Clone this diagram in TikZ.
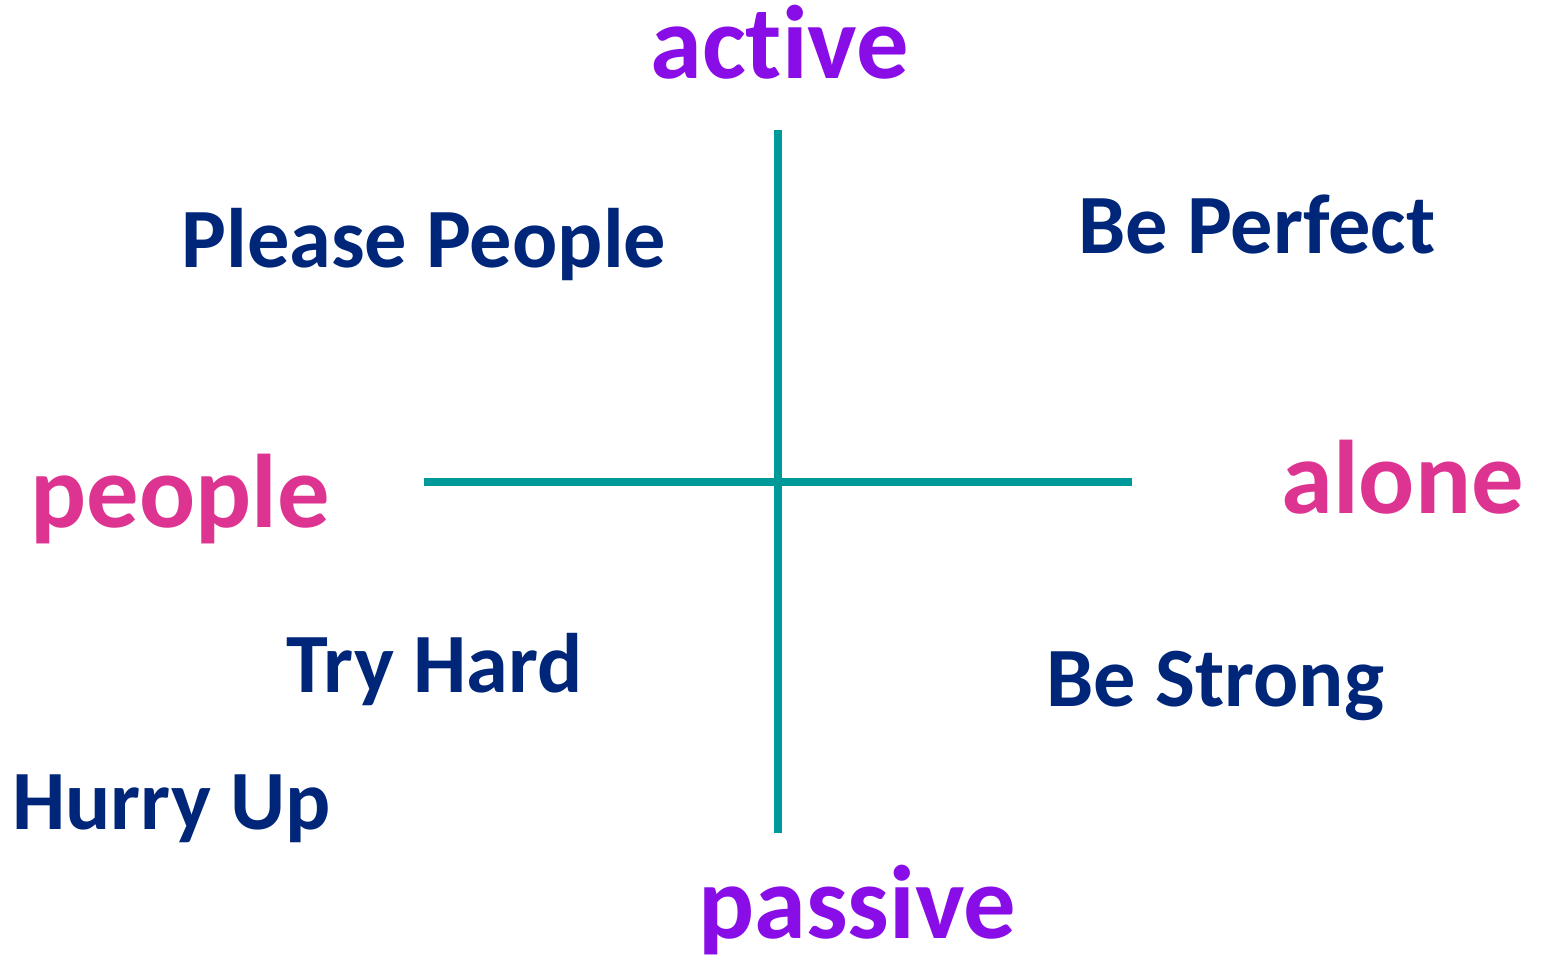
\documentclass[tikz,border=0pt]{standalone}
\usepackage{fontspec}
\setmainfont{Carlito}[Ligatures = CommonOff]
\definecolor{axisteal}{RGB}{0,153,153}
\definecolor{polepurple}{RGB}{137,13,230}
\definecolor{polepink}{RGB}{222,52,145}
\definecolor{drivernavy}{RGB}{0,38,122}

\begin{document}
\begin{tikzpicture}[x = 0.5pt, y = -0.5pt, font=\bfseries]
	\tikzstyle{axisStyle} = [draw = axisteal, line width = 4pt]
	\tikzstyle{poleStyle} = [inner sep = 0pt, anchor = base west, font = \fontsize{52.3}{60}\bfseries\selectfont]
	\tikzstyle{driverStyle} = [inner sep = 0pt, anchor = base west, text = drivernavy, font = \fontsize{42.2}{50}\bfseries\selectfont]
	\useasboundingbox (0, 0) rectangle (1543, 959);
	\coordinate (top) at (778, 130);
	\coordinate (bottom) at (778, 833);
	\coordinate (left) at (424, 482);
	\coordinate (right) at (1132, 482);
	\draw[axisStyle] (top) -- (bottom);
	\draw[axisStyle] (left) -- (right);
	\node[poleStyle, text = polepurple] (active) at (650, 78) {active};
	\node[poleStyle, text = polepurple] (passive) at (698, 938) {passive};
	\node[poleStyle, text = polepink] (people) at (30, 527) {people};
	\node[poleStyle, text = polepink] (alone) at (1281, 513) {alone};
	\node[driverStyle] (please) at (181, 267) {Please People};
	\node[driverStyle] (perfect) at (1078, 253) {Be Perfect};
	\node[driverStyle] (tryhard) at (286, 692) {Try Hard};
	\node[driverStyle] (strong) at (1046, 706) {Be Strong};
	\node[driverStyle] (hurry) at (12, 829) {Hurry Up};
\end{tikzpicture}
\end{document}
